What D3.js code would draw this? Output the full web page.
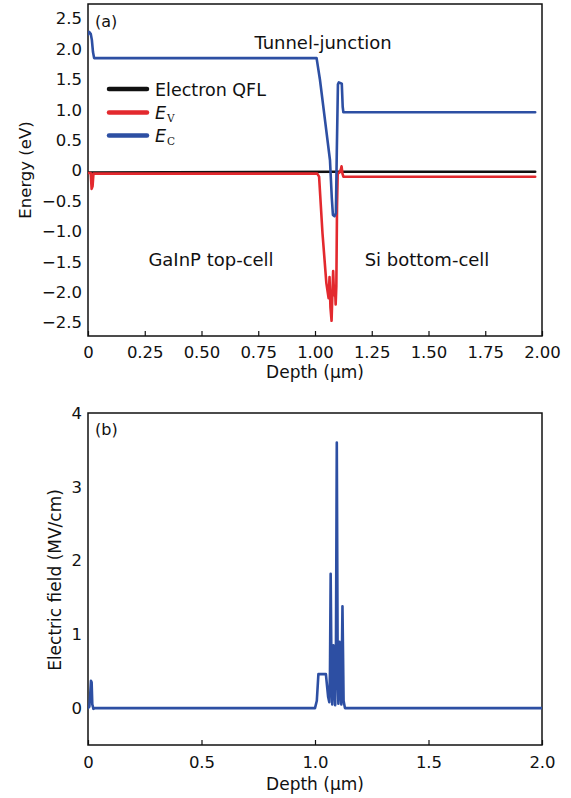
<!DOCTYPE html>
<html>
<head>
<meta charset="utf-8">
<script src="https://cdn.jsdelivr.net/npm/d3@7"></script>
<style>
  html, body { margin: 0; padding: 0; background: #fff; }
  svg { display: block; }
  text { font-family: "DejaVu Sans", "Noto Sans", sans-serif; fill: #111; }
</style>
</head>
<body>
<svg id="chart" width="571" height="798"></svg>
<script>
// ---------- Data ----------
// Panel (a): depth (µm), energy (eV)
const qflDepth = [0, 1.10, 1.97];
const qflEnergy = [-0.03, -0.02, -0.02];

const evDepth  = [0, 0.012, 0.016, 0.020, 0.024, 1.010, 1.018, 1.033, 1.050, 1.060, 1.064, 1.068, 1.073, 1.076, 1.080, 1.084, 1.088, 1.091, 1.094, 1.097, 1.100, 1.108, 1.114, 1.117, 1.121, 1.125, 1.97];
const evEnergy = [-0.04, -0.04, -0.30, -0.26, -0.05, -0.05, -0.10, -1.03, -1.85, -2.10, -1.75, -2.25, -2.47, -2.10, -1.65, -2.05, -1.90, -2.20, -1.90, -0.60, -0.05, -0.03, 0.02, 0.07, -0.05, -0.10, -0.10];

const ecDepth  = [0, 0.005, 0.012, 0.017, 0.022, 0.027, 1.007, 1.022, 1.045, 1.066, 1.074, 1.079, 1.086, 1.092, 1.096, 1.101, 1.105, 1.118, 1.122, 1.125, 1.97];
const ecEnergy = [2.24, 2.28, 2.25, 2.15, 1.95, 1.85, 1.85, 1.49, 0.80, 0.17, -0.45, -0.73, -0.75, -0.70, 0.30, 1.42, 1.45, 1.43, 1.05, 0.96, 0.96];

// Panel (b): depth (µm), electric field (MV/cm)
const efDepth = [0, 0.006, 0.010, 0.013, 0.016, 0.019, 0.024, 0.030, 1.000, 1.008, 1.015, 1.048, 1.053, 1.058, 1.063, 1.066, 1.069, 1.073, 1.076, 1.079, 1.081, 1.085, 1.089, 1.092, 1.096, 1.100, 1.103, 1.106, 1.108, 1.112, 1.116, 1.121, 1.126, 1.132, 2.0];
const efField = [0, 0.02, 0.20, 0.37, 0.35, 0.05, -0.01, 0, 0, 0.10, 0.46, 0.46, 0.30, 0.15, 0.08, 0.50, 1.82, 0.35, 0.05, 0.55, 0.85, 0.30, 0.04, 0.60, 3.60, 0.50, 0.06, 0.50, 0.90, 0.25, 0.05, 1.38, 0.10, 0, 0];

// Ticks
const xTicksA = [0, 0.25, 0.5, 0.75, 1.0, 1.25, 1.5, 1.75, 2.0];
const xTickLabelsA = ["0", "0.25", "0.50", "0.75", "1.00", "1.25", "1.50", "1.75", "2.00"];
const yTicksA = [2.5, 2.0, 1.5, 1.0, 0.5, 0, -0.5, -1.0, -1.5, -2.0, -2.5];
const yTickLabelsA = ["2.5", "2.0", "1.5", "1.0", "0.5", "0", "\u22120.5", "\u22121.0", "\u22121.5", "\u22122.0", "\u22122.5"];
const xTicksB = [0, 0.5, 1.0, 1.5, 2.0];
const xTickLabelsB = ["0", "0.5", "1.0", "1.5", "2.0"];
const yTicksB = [0, 1, 2, 3, 4];
const yTickLabelsB = ["0", "1", "2", "3", "4"];

// ---------- Styles ----------
const BLUE = "#2d4fa3";
const RED = "#e3292e";
const BLACK = "#111111";
const TICK_FS = 16.5;

const svg = d3.select("#chart");

function zip(xs, ys) { return xs.map((x, i) => [x, ys[i]]); }

function panel(cfg) {
  const x = d3.scaleLinear().domain([0, 2]).range([cfg.left, cfg.right]);
  const y = d3.scaleLinear().domain(cfg.yDomain).range([cfg.bottom, cfg.top]);
  const g = svg.append("g");

  const clipId = "clip" + cfg.name;
  svg.append("clipPath").attr("id", clipId).append("rect")
    .attr("x", cfg.left).attr("y", cfg.top)
    .attr("width", cfg.right - cfg.left).attr("height", cfg.bottom - cfg.top);

  // x axis (bottom) with inward ticks
  const xAxis = d3.axisBottom(x).tickValues(cfg.xTicks)
    .tickFormat((d, i) => cfg.xLabels[i]).tickSizeInner(-5).tickSizeOuter(0).tickPadding(cfg.xPad);
  const xg = g.append("g").attr("transform", `translate(0,${cfg.bottom})`).call(xAxis);
  xg.select(".domain").remove();
  xg.selectAll(".tick line").attr("stroke", BLACK).attr("stroke-width", 1.2);
  xg.selectAll(".tick text").attr("font-size", TICK_FS).attr("fill", BLACK)
    .attr("font-family", '"DejaVu Sans", sans-serif');

  // y axis labels (no tick marks)
  const yAxis = d3.axisLeft(y).tickValues(cfg.yTicks)
    .tickFormat((d, i) => cfg.yLabels[i]).tickSize(0).tickPadding(6);
  const yg = g.append("g").attr("transform", `translate(${cfg.left},0)`).call(yAxis);
  yg.select(".domain").remove();
  yg.selectAll(".tick line").remove();
  yg.selectAll(".tick text").attr("font-size", TICK_FS).attr("fill", BLACK)
    .attr("font-family", '"DejaVu Sans", sans-serif');

  // frame
  g.append("rect")
    .attr("x", cfg.left).attr("y", cfg.top)
    .attr("width", cfg.right - cfg.left).attr("height", cfg.bottom - cfg.top)
    .attr("fill", "none").attr("stroke", BLACK).attr("stroke-width", 1.5);

  const line = d3.line().x(d => x(d[0])).y(d => y(d[1]));
  const lg = svg.append("g").attr("clip-path", `url(#${clipId})`);
  cfg.series.forEach(s => {
    lg.append("path").datum(s.data)
      .attr("d", line)
      .attr("fill", "none")
      .attr("stroke", s.color)
      .attr("stroke-width", s.width)
      .attr("stroke-linejoin", "round")
      .attr("stroke-linecap", "round");
  });
  return { x, y, g };
}

// ---------- Panel (a) ----------
panel({
  name: "a", left: 88, right: 542, top: 4, bottom: 336, xPad: 10,
  yDomain: [-2.72, 2.74],
  xTicks: xTicksA, xLabels: xTickLabelsA,
  yTicks: yTicksA, yLabels: yTickLabelsA,
  series: [
    { data: zip(qflDepth, qflEnergy), color: BLACK, width: 2.6 },
    { data: zip(evDepth, evEnergy), color: RED, width: 2.6 },
    { data: zip(ecDepth, ecEnergy), color: BLUE, width: 2.6 }
  ]
});

svg.append("text").attr("x", 95).attr("y", 27).attr("font-size", 16).text("(a)");
svg.append("text").attr("x", 323).attr("y", 49).attr("font-size", 18)
  .attr("text-anchor", "middle").text("Tunnel-junction");
svg.append("text").attr("x", 211).attr("y", 266).attr("font-size", 18)
  .attr("text-anchor", "middle").text("GaInP top-cell");
svg.append("text").attr("x", 427).attr("y", 266).attr("font-size", 18)
  .attr("text-anchor", "middle").text("Si bottom-cell");

// legend
const legendItems = [
  { color: BLACK, y: 89, label: "Electron QFL", sub: null },
  { color: RED, y: 112.5, label: "E", sub: "V" },
  { color: BLUE, y: 135.5, label: "E", sub: "C" }
];
legendItems.forEach(it => {
  svg.append("line").attr("x1", 109).attr("x2", 147).attr("y1", it.y).attr("y2", it.y)
    .attr("stroke", it.color).attr("stroke-width", 4.5).attr("stroke-linecap", "round");
  const t = svg.append("text").attr("x", 155).attr("y", it.y + 6.5).attr("font-size", 17.5);
  if (it.sub) {
    t.append("tspan").attr("font-style", "italic").text(it.label);
    t.append("tspan").attr("font-family", '"DejaVu Serif", "Liberation Serif", serif')
      .attr("font-size", 10.5).attr("dx", 1).attr("dy", 3).text(it.sub);
  } else {
    t.text(it.label);
  }
});

svg.append("text").attr("x", 315).attr("y", 378).attr("font-size", 17)
  .attr("text-anchor", "middle").text("Depth (\u03bcm)");
svg.append("text").attr("transform", "translate(31,170) rotate(-90)")
  .attr("font-size", 16.5).attr("text-anchor", "middle").text("Energy (eV)");

// ---------- Panel (b) ----------
panel({
  name: "b", left: 88, right: 542, top: 413, bottom: 745, xPad: 11,
  yDomain: [-0.5, 4],
  xTicks: xTicksB, xLabels: xTickLabelsB,
  yTicks: yTicksB, yLabels: yTickLabelsB,
  series: [
    { data: zip(efDepth, efField), color: BLUE, width: 2.6 }
  ]
});

svg.append("text").attr("x", 95).attr("y", 435).attr("font-size", 16).text("(b)");
svg.append("text").attr("x", 315).attr("y", 790).attr("font-size", 17)
  .attr("text-anchor", "middle").text("Depth (\u03bcm)");
svg.append("text").attr("transform", "translate(61,580) rotate(-90)")
  .attr("font-size", 17).attr("text-anchor", "middle").text("Electric field (MV/cm)");
</script>
</body>
</html>
